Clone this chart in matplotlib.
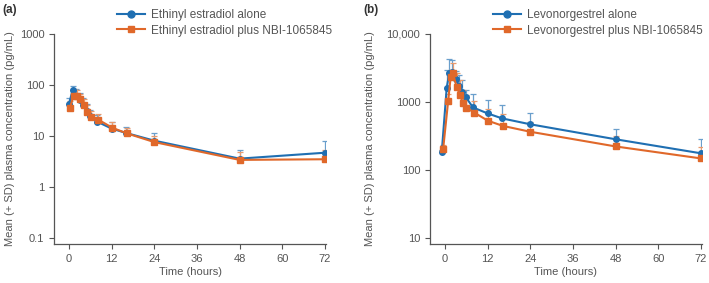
import numpy as np
import matplotlib.pyplot as plt
from matplotlib.lines import Line2D

plt.rcParams['font.family'] = ['Liberation Sans', 'DejaVu Sans']

# (a) ethinyl estradiol
ee_time = [0, 1, 2, 3, 4, 5, 6, 8, 12, 16, 24, 48, 72]
ee_alone = [42, 78, 62, 50, 40, 31, 25, 19, 14, 11.5, 8.1, 3.6, 4.7]
ee_alone_top = [55, 95, 85, 70, 55, 42, 33, 26, 19, 15, 11.2, 5.3, 8.1]
ee_nbi_time = [0.3, 1.3, 2.2, 3.2, 4.2, 5.2, 6.3, 8.2, 12.2, 16.2, 24, 48, 72]
ee_nbi = [36, 62, 60, 53, 40, 30, 24, 21, 14.5, 11.3, 7.6, 3.4, 3.5]
ee_nbi_top = [48, 82, 78, 68, 52, 40, 31, 27, 19, 14.5, 10, 4.8, 5.3]

# (b) levonorgestrel
lng_time = [-0.9, 0.5, 1.2, 1.9, 3.1, 4.0, 4.8, 5.9, 7.9, 12, 16, 24, 48, 72]
lng_alone = [182, 1620, 2640, 2740, 2160, 1740, 1400, 1170, 830, 680, 575, 470, 283, 176]
lng_alone_top = [200, 2950, 4300, 4200, 2900, 2500, 2100, 1500, 1310, 1070, 910, 700, 400, 285]
lng_nbi_time = [-0.5, 0.9, 1.6, 2.2, 3.3, 4.2, 5.1, 6.0, 8.2, 12.1, 16.3, 24, 48, 72]
lng_nbi = [204, 1030, 2300, 2640, 1680, 1270, 960, 825, 700, 530, 445, 365, 222, 148]
lng_nbi_top = [230, 1300, 3000, 3700, 2700, 2100, 1500, 1250, 1050, 800, 660, 515, 320, 215]

blue = '#1f6fb2'
orange = '#e0682a'
grey = '#555555'

fig = plt.figure(figsize=(7.09, 2.83), dpi=100)
ax1 = fig.add_axes([0.0762, 0.1378, 0.3836, 0.7421])
ax2 = fig.add_axes([0.6065, 0.1378, 0.3836, 0.7421])


def draw(ax, t1, y1, top1, t2, y2, top2):
    y1 = np.array(y1)
    y2 = np.array(y2)
    ax.errorbar(t1, y1, yerr=[np.zeros_like(y1), np.array(top1) - y1],
                color=blue, marker='o', ms=4, lw=1.5, ecolor='#6a9fcc',
                elinewidth=0.9, capsize=2.5, capthick=0.9)
    ax.errorbar(t2, y2, yerr=[np.zeros_like(y2), np.array(top2) - y2],
                color=orange, marker='s', ms=4, lw=1.5, ecolor='#e89a6e',
                elinewidth=0.9, capsize=2.5, capthick=0.9)
    ax.set_yscale('log')
    ax.set_xlim(-4.2, 72.3)
    ax.set_xticks([0, 12, 24, 36, 48, 60, 72])
    ax.minorticks_off()
    for s in ['top', 'right']:
        ax.spines[s].set_visible(False)
    for s in ['left', 'bottom']:
        ax.spines[s].set_color(grey)
        ax.spines[s].set_linewidth(0.9)
    ax.tick_params(colors=grey, labelcolor=grey, labelsize=8, length=3.5, width=0.8)
    ax.set_xlabel('Time (hours)', color=grey, fontsize=8, labelpad=2)
    ax.set_ylabel('Mean (+ SD) plasma concentration (pg/mL)', color=grey, fontsize=8)


def legend(x, labels):
    handles = [Line2D([], [], color=blue, marker='o', ms=5, lw=1.5),
               Line2D([], [], color=orange, marker='s', ms=5, lw=1.5)]
    fig.legend(handles=handles, labels=labels,
               loc='upper left', bbox_to_anchor=(x / 709, 1 - 9 / 283), frameon=False,
               borderpad=0, borderaxespad=0, handlelength=2.4, handletextpad=0.5,
               labelspacing=0.3, fontsize=8.5, labelcolor=grey)


draw(ax1, ee_time, ee_alone, ee_alone_top, ee_nbi_time, ee_nbi, ee_nbi_top)
ax1.set_ylim(0.0763, 1000)
ax1.set_yticks([0.1, 1, 10, 100, 1000])
ax1.set_yticklabels(['0.1', '1', '10', '100', '1000'])
ax1.yaxis.set_label_coords(-0.143, 0.5)
legend(117, ['Ethinyl estradiol alone', 'Ethinyl estradiol plus NBI-1065845'])

draw(ax2, lng_time, lng_alone, lng_alone_top, lng_nbi_time, lng_nbi, lng_nbi_top)
ax2.set_ylim(8.16, 10000)
ax2.set_yticks([10, 100, 1000, 10000])
ax2.set_yticklabels(['10', '100', '1000', '10,000'])
ax2.yaxis.set_label_coords(-0.202, 0.5)
legend(493, ['Levonorgestrel alone', 'Levonorgestrel plus NBI-1065845'])

fig.text(0.003, 0.955, '(a)', fontsize=8.5, fontweight='bold', color='#333333')
fig.text(0.512, 0.955, '(b)', fontsize=8.5, fontweight='bold', color='#333333')

fig.savefig('out.png', dpi=100)
